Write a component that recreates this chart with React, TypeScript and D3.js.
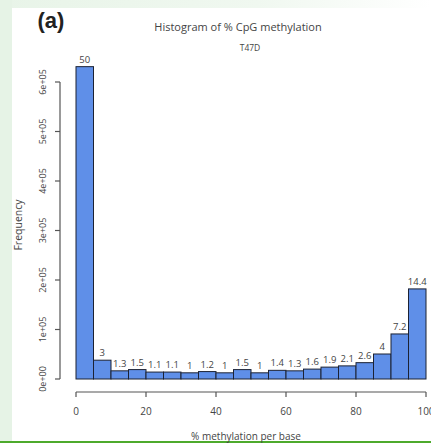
import React from "react";
import * as d3 from "d3";

const binStarts = [0, 5, 10, 15, 20, 25, 30, 35, 40, 45, 50, 55, 60, 65, 70, 75, 80, 85, 90, 95];
const frequencies = [631000, 38000, 16500, 19000, 14000, 14000, 12500, 15000, 12500, 19000, 12500, 17500, 16500, 20000, 24000, 26500, 33000, 50500, 91000, 182000];
const pctLabels = ["50", "3", "1.3", "1.5", "1.1", "1.1", "1", "1.2", "1", "1.5", "1", "1.4", "1.3", "1.6", "1.9", "2.1", "2.6", "4", "7.2", "14.4"];
const xTicks = [0, 20, 40, 60, 80, 100];
const yTicks = [0, 100000, 200000, 300000, 400000, 500000, 600000];
const yTickLabels = ["0e+00", "1e+05", "2e+05", "3e+05", "4e+05", "5e+05", "6e+05"];

const W = 431, H = 445;
const FONT = "'Open Sans', 'Liberation Sans', sans-serif";
const TXT = "#444";

export default function App() {
  const x = d3.scaleLinear().domain([0, 100]).range([76, 426]);
  const y = d3.scaleLinear().domain([0, 600000]).range([379, 82]);
  return (
    <svg width={W} height={H} style={{ position: "absolute", left: 0, top: 0, display: "block" }}>
      <defs>
        <linearGradient id="topg" x1="0" x2="1" y1="0" y2="0">
          <stop offset="0" stopColor="#e8f4e8" />
          <stop offset="0.6" stopColor="#f0f8f0" />
          <stop offset="1" stopColor="#ffffff" />
        </linearGradient>
      </defs>
      <rect x={0} y={0} width={W} height={H} fill="#ffffff" />
      <rect x={0} y={0} width={W} height={8} fill="url(#topg)" />
      <rect x={0} y={0} width={12} height={441} fill="#e6f3e6" />
      <rect x={12} y={8} width={W - 12} height={433} fill="#ffffff" />
      <line x1={0} x2={W} y1={442} y2={442} stroke="#4daa2c" strokeWidth={2} />

      <text x={51} y={28} textAnchor="middle" fontFamily="'Liberation Sans', Arial, sans-serif" fontWeight="bold" fontSize={22} fill="#222">(a)</text>
      <text x={238} y={31} textAnchor="middle" fontFamily={FONT} fontSize={11} fill={TXT}>Histogram of % CpG methylation</text>
      <text x={250} y={51} textAnchor="middle" fontFamily={FONT} fontSize={8.5} fill={TXT}>T47D</text>

      {binStarts.map((b, i) => (
        <g key={i}>
          <rect x={x(b)} y={y(frequencies[i])} width={x(b + 5) - x(b)} height={y(0) - y(frequencies[i])}
            fill="#5f8fe8" stroke="#1c2233" strokeWidth={1} />
          <text x={x(b + 2.5)} y={y(frequencies[i]) - 4} textAnchor="middle" fontFamily={FONT} fontSize={9.5} fill={TXT}>{pctLabels[i]}</text>
        </g>
      ))}

      <line x1={60} x2={60} y1={y(0)} y2={y(600000)} stroke="#555" strokeWidth={1.2} />
      {yTicks.map((t, i) => (
        <g key={t}>
          <line x1={55} x2={60} y1={y(t)} y2={y(t)} stroke="#555" strokeWidth={1.2} />
          <text transform={`translate(46,${y(t)}) rotate(-90)`} textAnchor="middle" fontFamily={FONT} fontSize={9} fill={TXT}>{yTickLabels[i]}</text>
        </g>
      ))}
      <text transform={`translate(22,225) rotate(-90)`} textAnchor="middle" fontFamily={FONT} fontSize={10.5} fill={TXT}>Frequency</text>

      <line x1={x(0)} x2={x(100)} y1={392} y2={392} stroke="#555" strokeWidth={1.2} />
      {xTicks.map((t) => (
        <g key={t}>
          <line x1={x(t)} x2={x(t)} y1={392} y2={397} stroke="#555" strokeWidth={1.2} />
          <text x={x(t)} y={415} textAnchor="middle" fontFamily={FONT} fontSize={10} fill={TXT}>{t}</text>
        </g>
      ))}
      <text x={246} y={440} textAnchor="middle" fontFamily={FONT} fontSize={10} fill={TXT}>% methylation per base</text>
    </svg>
  );
}
